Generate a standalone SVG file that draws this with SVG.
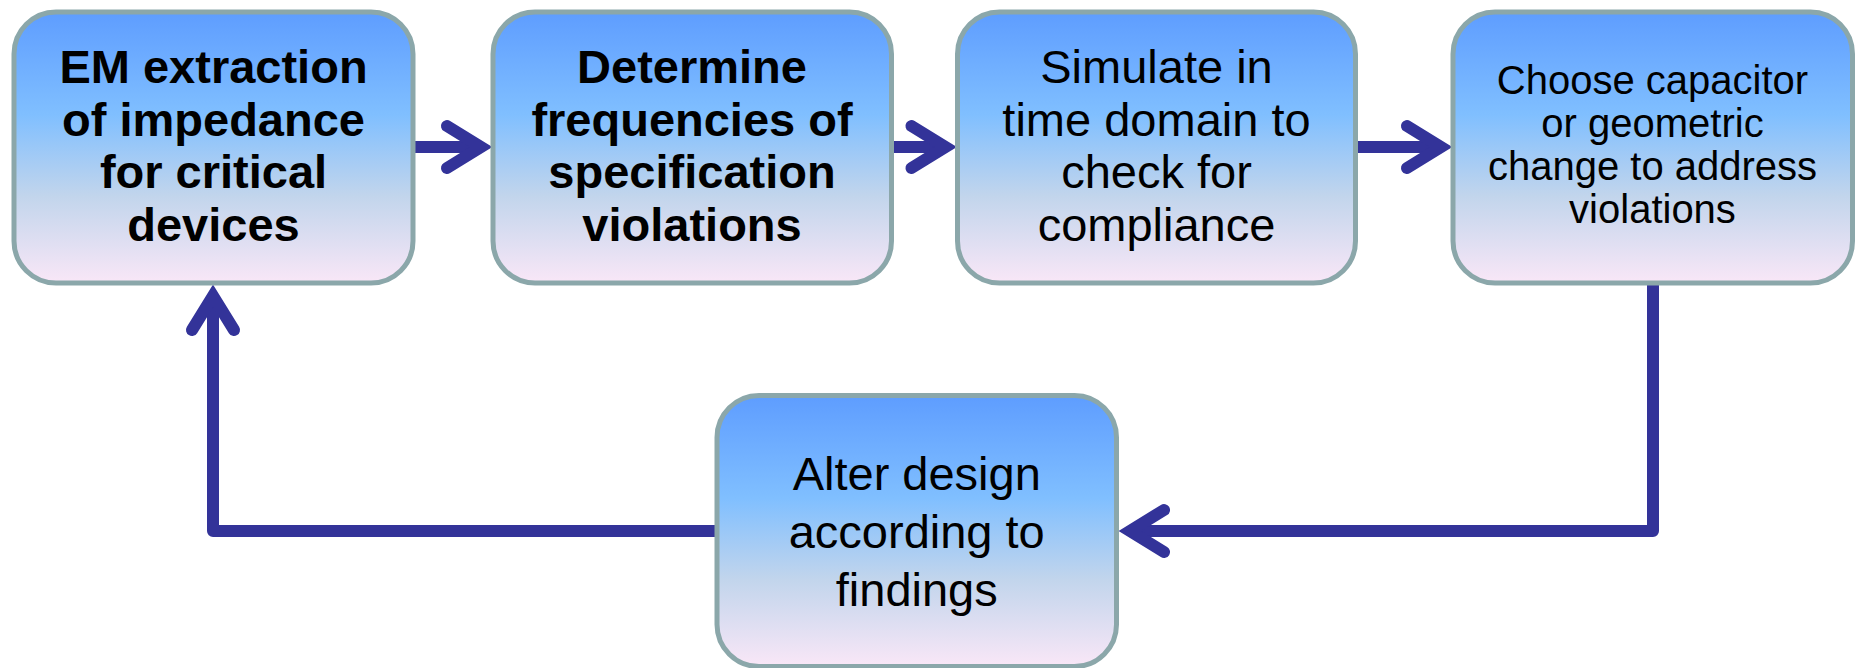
<svg xmlns="http://www.w3.org/2000/svg" width="1862" height="668" viewBox="0 0 1862 668">
<defs>
<linearGradient id="g" x1="0" y1="0" x2="0" y2="1">
<stop offset="0" stop-color="#5e9dff"/>
<stop offset="0.38" stop-color="#80bfff"/>
<stop offset="0.68" stop-color="#c2d5ec"/>
<stop offset="1" stop-color="#f9e7f7"/>
</linearGradient>
<path id="chev" d="M-46,-21 L-12,0 L-46,21" fill="none" stroke="#333399" stroke-width="12" stroke-linecap="round" stroke-linejoin="miter" stroke-miterlimit="10"/>
</defs>
<style>
.box{fill:url(#g);stroke:#8ba7aa;stroke-width:5}
.t{font-family:"Liberation Sans",Arial,sans-serif;font-size:47px;fill:#000;text-anchor:middle}
.b{font-weight:bold}
.s{font-size:40px}
.c{fill:none;stroke:#333399;stroke-width:12;stroke-linejoin:round}
</style>
<rect width="1862" height="668" fill="#fff"/>
<g id="connectors">
<path class="c" d="M413,147 H482"/>
<use href="#chev" transform="translate(493,147)"/>
<path class="c" d="M891.5,147 H946"/>
<use href="#chev" transform="translate(957.5,147)"/>
<path class="c" d="M1355.5,147 H1442"/>
<use href="#chev" transform="translate(1453,147)"/>
<path class="c" d="M1653,283 V531 H1130"/>
<use href="#chev" transform="translate(1118,531) rotate(180)"/>
<path class="c" d="M717,531 H213 V295"/>
<use href="#chev" transform="translate(213,284) rotate(-90)"/>
</g>
<g id="n1">
<rect class="box" x="14" y="12" width="399" height="271" rx="42"/>
<text class="t b" x="213.5"><tspan x="213.5" y="83">EM extraction</tspan><tspan x="213.5" y="135.5">of impedance</tspan><tspan x="213.5" y="188">for critical</tspan><tspan x="213.5" y="240.5">devices</tspan></text>
</g>
<g id="n2">
<rect class="box" x="493" y="12" width="398.5" height="271" rx="42"/>
<text class="t b"><tspan x="692" y="83">Determine</tspan><tspan x="692" y="135.5">frequencies of</tspan><tspan x="692" y="188">specification</tspan><tspan x="692" y="240.5">violations</tspan></text>
</g>
<g id="n3">
<rect class="box" x="957.5" y="12" width="398" height="271" rx="42"/>
<text class="t"><tspan x="1156.5" y="83">Simulate in</tspan><tspan x="1156.5" y="135.5">time domain to</tspan><tspan x="1156.5" y="188">check for</tspan><tspan x="1156.5" y="240.5">compliance</tspan></text>
</g>
<g id="n4">
<rect class="box" x="1453" y="12" width="399.5" height="271" rx="42"/>
<text class="t s"><tspan x="1652.5" y="94">Choose capacitor</tspan><tspan x="1652.5" y="137">or geometric</tspan><tspan x="1652.5" y="180">change to address</tspan><tspan x="1652.5" y="223">violations</tspan></text>
</g>
<g id="n5">
<rect class="box" x="717" y="395.5" width="399.5" height="271" rx="42"/>
<text class="t"><tspan x="916.75" y="490">Alter design</tspan><tspan x="916.75" y="548">according to</tspan><tspan x="916.75" y="606">findings</tspan></text>
</g>
</svg>
